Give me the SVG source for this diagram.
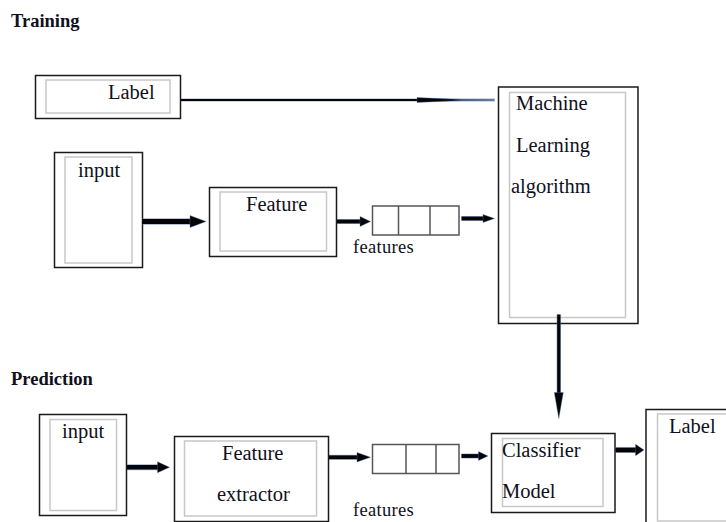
<svg xmlns="http://www.w3.org/2000/svg" width="726" height="522" viewBox="0 0 726 522">
<style>
.bg{fill:#fff}
.outer{fill:#fff;stroke:#1a1a1a;stroke-width:1.5}
.inner{fill:none;stroke:#c8c8c8;stroke-width:1.5}
.cell{fill:#fff;stroke:#555;stroke-width:1.5}
text{font-family:"Liberation Serif","Times New Roman",serif;fill:#10101c}
.t{font-size:20.5px}
.f{font-size:18.5px;letter-spacing:0.3px}
.h{font-size:18.5px;font-weight:bold}
.halo{stroke:#4a6fa8;stroke-opacity:0.55;fill:none;stroke-linecap:butt}
.core{stroke:#050508;fill:none;stroke-linecap:butt}
.head{fill:#050508;stroke:#4a6fa8;stroke-opacity:0.45;stroke-width:0.8}
</style>
<rect class="bg" x="0" y="0" width="726" height="522"/>

<text class="h" x="11" y="27">Training</text>
<text class="h" x="11" y="385">Prediction</text>

<g id="train-label">
<rect class="outer" x="35.5" y="75.5" width="145" height="43"/>
<rect class="inner" x="46" y="80" width="124" height="33"/>
<text class="t" x="108" y="99">Label</text>
</g>

<g id="train-input">
<rect class="outer" x="54.5" y="152.5" width="88" height="115"/>
<rect class="inner" x="65" y="157" width="67" height="106"/>
<text class="t" x="78" y="177">input</text>
</g>

<g id="train-feature">
<rect class="outer" x="209.5" y="187.5" width="127" height="69"/>
<rect class="inner" x="220" y="192" width="106.5" height="59"/>
<text class="t" x="246" y="211">Feature</text>
</g>

<g id="train-features">
<rect class="cell" x="372.5" y="206" width="86.5" height="29"/>
<line class="cell" x1="398.5" y1="206" x2="398.5" y2="235"/>
<line class="cell" x1="430" y1="206" x2="430" y2="235"/>
<text class="f" x="353" y="253">features</text>
</g>

<g id="ml-algorithm">
<rect class="outer" x="498.5" y="87" width="139.5" height="236.5"/>
<rect class="inner" x="509.5" y="92.5" width="116" height="225"/>
<text class="t" x="516" y="110">Machine</text>
<text class="t" x="516" y="152">Learning</text>
<text class="t" x="511" y="193">algorithm</text>
</g>

<g id="pred-input">
<rect class="outer" x="39.5" y="414.5" width="87" height="101"/>
<rect class="inner" x="50" y="419.5" width="66.5" height="91"/>
<text class="t" x="62" y="438">input</text>
</g>

<g id="pred-feature-extractor">
<rect class="outer" x="174.5" y="436.5" width="154" height="85"/>
<rect class="inner" x="184.5" y="441" width="132" height="75"/>
<text class="t" x="222" y="460">Feature</text>
<text class="t" x="217" y="501">extractor</text>
</g>

<g id="pred-features">
<rect class="cell" x="372.5" y="444.5" width="86.5" height="29"/>
<line class="cell" x1="406" y1="444.5" x2="406" y2="473.5"/>
<line class="cell" x1="436" y1="444.5" x2="436" y2="473.5"/>
<text class="f" x="353" y="516">features</text>
</g>

<g id="classifier-model">
<rect class="outer" x="491.5" y="433.5" width="123.5" height="79"/>
<rect class="inner" x="502.5" y="438.5" width="100.5" height="68"/>
<text class="t" x="502" y="457">Classifier</text>
<text class="t" x="502" y="498">Model</text>
</g>

<g id="pred-label">
<rect class="outer" x="646" y="409.5" width="90" height="120"/>
<rect class="inner" x="657.5" y="414" width="80" height="107"/>
<text class="t" x="669" y="433">Label</text>
</g>

<g id="connectors">
<!-- Label -> ML -->
<line class="halo" x1="181" y1="100" x2="495" y2="100" stroke-width="3"/>
<line class="core" x1="181" y1="100" x2="420" y2="100" stroke-width="1.8"/>
<polygon class="head" points="417,97.6 417,102.4 462,100.5 494,100.2 494,99.8 462,99.5"/>

<!-- train input -> feature -->
<line class="halo" x1="142" y1="221.5" x2="192" y2="221.5" stroke-width="6.5"/>
<line class="core" x1="142" y1="221.5" x2="192" y2="221.5" stroke-width="5"/>
<polygon class="head" points="190,215.5 206,221.5 190,227.5"/>

<!-- feature -> features vector -->
<line class="halo" x1="337" y1="221.5" x2="362" y2="221.5" stroke-width="5"/>
<line class="core" x1="337" y1="221.5" x2="362" y2="221.5" stroke-width="3.8"/>
<polygon class="head" points="360,216.5 370.5,221.5 360,226.5"/>

<!-- features vector -> ML -->
<line class="halo" x1="461.5" y1="218.5" x2="485" y2="218.5" stroke-width="5"/>
<line class="core" x1="461.5" y1="218.5" x2="485" y2="218.5" stroke-width="3.8"/>
<polygon class="head" points="483,214.5 494.5,218.5 483,222.5"/>

<!-- ML -> classifier (down) -->
<line class="halo" x1="558.8" y1="314.5" x2="558.8" y2="395" stroke-width="4.5"/>
<line class="core" x1="558.8" y1="314.5" x2="558.8" y2="395" stroke-width="3.2"/>
<polygon class="head" points="554.3,392.5 563.3,392.5 558.8,418.5"/>

<!-- pred input -> feature extractor -->
<line class="halo" x1="127" y1="467.3" x2="160" y2="467.3" stroke-width="6"/>
<line class="core" x1="127" y1="467.3" x2="160" y2="467.3" stroke-width="4.6"/>
<polygon class="head" points="157.5,461.8 169.5,467.3 157.5,472.8"/>

<!-- feature extractor -> features vector -->
<line class="halo" x1="329" y1="457.3" x2="359" y2="457.3" stroke-width="5"/>
<line class="core" x1="329" y1="457.3" x2="359" y2="457.3" stroke-width="3.8"/>
<polygon class="head" points="357,452.5 370.5,457.3 357,462"/>

<!-- features vector -> classifier -->
<line class="halo" x1="461.5" y1="456" x2="480" y2="456" stroke-width="5"/>
<line class="core" x1="461.5" y1="456" x2="480" y2="456" stroke-width="3.8"/>
<polygon class="head" points="478.5,451.5 488,456 478.5,460.5"/>

<!-- classifier -> label -->
<line class="halo" x1="615.5" y1="450" x2="637" y2="450" stroke-width="6"/>
<line class="core" x1="615.5" y1="450" x2="637" y2="450" stroke-width="4.6"/>
<polygon class="head" points="635.5,444.3 644,450 635.5,455.7"/>
</g>
</svg>
